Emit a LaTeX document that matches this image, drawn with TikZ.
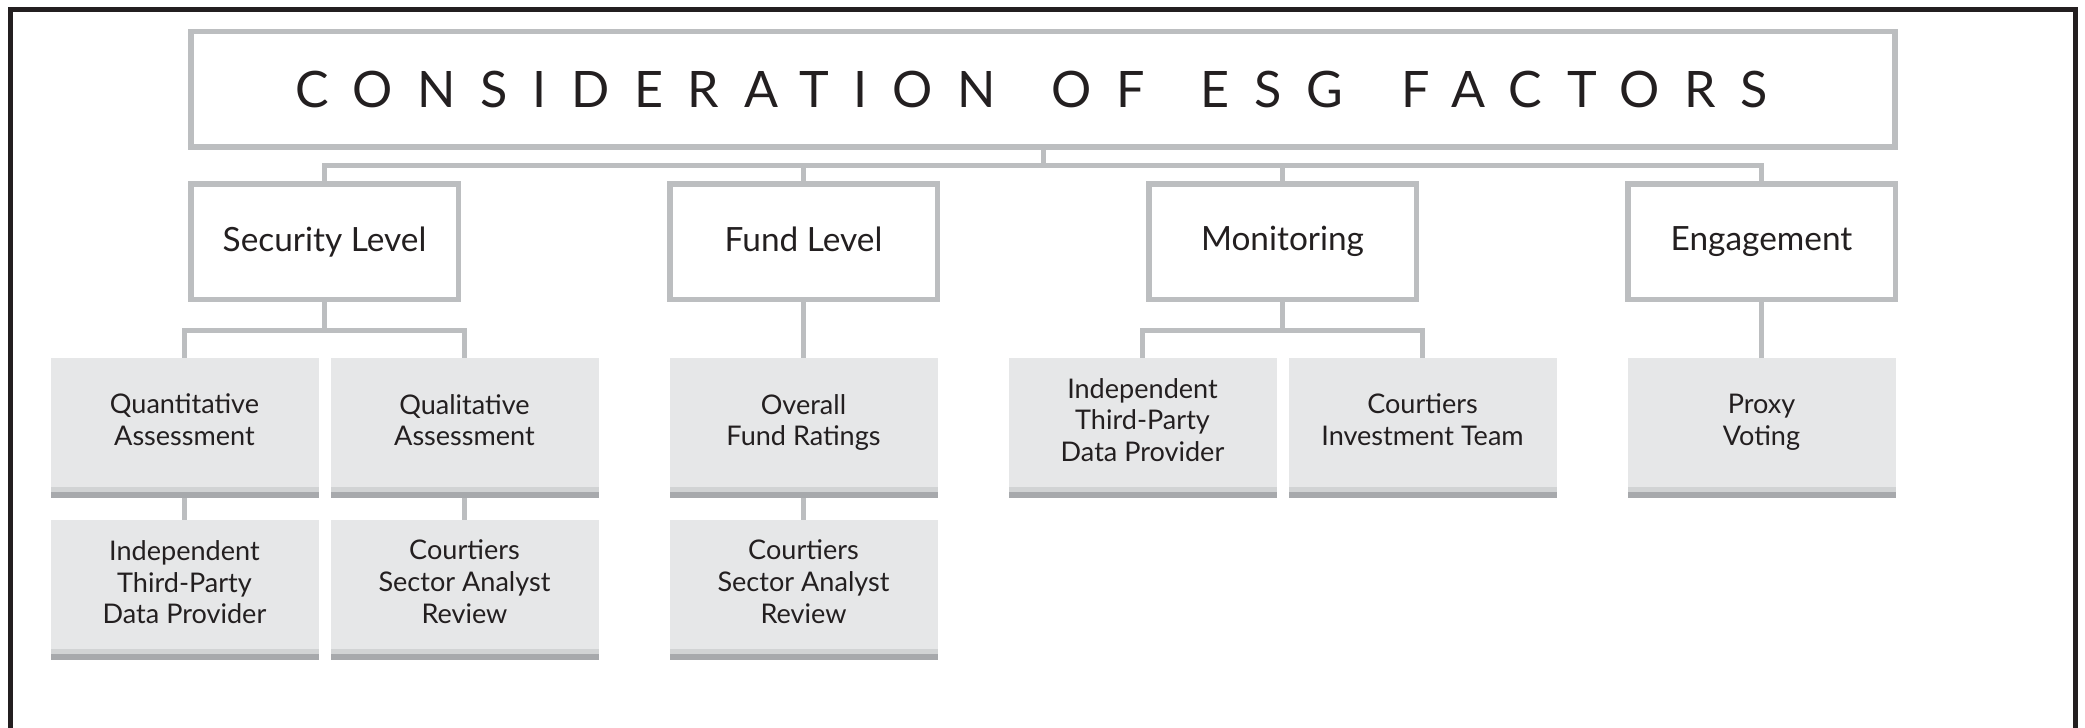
\documentclass[tikz,border=0pt]{standalone}
\usepackage{fontspec}
\setmainfont{Lato}
\newfontfamily\titlefont[LetterSpace=49]{Lato}
\usetikzlibrary{positioning}

\definecolor{ink}{HTML}{231F20}
\definecolor{wiregray}{HTML}{BCBEC0}
\definecolor{leafgray}{HTML}{E6E7E8}
\definecolor{bandlight}{HTML}{D1D3D4}
\definecolor{banddark}{HTML}{A7A9AC}

\begin{document}
\begin{tikzpicture}[
    on grid, node distance=1.5cm,
    titlebox/.style={rectangle, draw=wiregray, line width=0.055cm, inner sep=0pt, minimum width=17.04cm, minimum height=1.155cm, text=ink, font=\titlefont\fontsize{14.3}{17}\selectfont},
    head/.style={rectangle, draw=wiregray, line width=0.055cm, inner sep=0pt, minimum width=2.675cm, minimum height=1.155cm, text=ink, font=\fontsize{9.5}{11.4}\selectfont, execute at end node=\vphantom{y}},
    leaf/.style={rectangle, fill=leafgray, inner sep=0pt, outer sep=0pt, minimum width=2.68cm, minimum height=1.29cm, align=center, text=ink, font=\fontsize{7.7}{9.1}\selectfont, execute at end node=\vphantom{g}},
    wire/.style={draw=wiregray, line width=0.05cm},
    boxframe/.style={draw=ink, line width=0.05cm}
]
    \useasboundingbox (0,0) rectangle (20.85,-7.28);
    \draw[boxframe] (0.108,-7.28) |- (20.75,-0.095) -- (20.75,-7.28);

    \node[titlebox] (title) at (10.43,-0.8925) {CONSIDERATION\hspace{0.56cm}OF\hspace{0.56cm}ESG\hspace{0.58cm}FACTORS\kern0.23cm};

    \node[head] (fund) [below left=1.525cm and 2.395cm of title] {Fund Level};
    \node[head] (sec) [left=4.79cm of fund] {Security Level};
    \node[head] (mon) [right=4.79cm of fund] {Monitoring};
    \node[head] (eng) [right=4.79cm of mon] {Engagement};

    \node[leaf] (quant) [below left=1.8075cm and 1.4cm of sec] {Quantitative\\Assessment};
    \node[leaf] (qual) [right=2.8cm of quant] {Qualitative\\Assessment};
    \node[leaf] (fundr) [below=1.8075cm of fund] {Overall\\Fund Ratings};
    \node[leaf] (indep) [below left=1.8075cm and 1.4cm of mon] {Independent\\Third-Party\\Data Provider};
    \node[leaf] (invt) [right=2.8cm of indep] {Courtiers\\Investment Team};
    \node[leaf] (proxy) [below=1.8075cm of eng] {Proxy\\Voting};

    \node[leaf] (data1) [below=1.62cm of quant] {Independent\\Third-Party\\Data Provider};
    \node[leaf] (review1) [below=1.62cm of qual] {Courtiers\\Sector Analyst\\Review};
    \node[leaf] (review2) [below=1.62cm of fundr] {Courtiers\\Sector Analyst\\Review};

    % top bus
    \draw[wire] (title.south) -- ++(0,-0.16);
    \draw[wire] (sec.north) -- ++(0,0.16) -| (eng.north);
    \draw[wire] (fund.north) -- ++(0,0.16);
    \draw[wire] (mon.north) -- ++(0,0.16);

    % brackets under the heads
    \draw[wire] (sec.south) -- ++(0,-0.2825) coordinate (secbr);
    \draw[wire] (quant.north) |- (secbr) -| (qual.north);
    \draw[wire] (mon.south) -- ++(0,-0.2825) coordinate (monbr);
    \draw[wire] (indep.north) |- (monbr) -| (invt.north);

    \draw[wire] (fund) -- (fundr);
    \draw[wire] (eng) -- (proxy);
    \draw[wire] (quant) -- (data1);
    \draw[wire] (qual) -- (review1);
    \draw[wire] (fundr) -- (review2);

    % shaded strips along the bottom of each leaf
    \foreach \n in {quant,qual,fundr,indep,invt,proxy,data1,review1,review2} {
        \fill[bandlight] (\n.south west) rectangle ([yshift=-0.05cm]\n.south east);
        \fill[banddark] ([yshift=-0.05cm]\n.south west) rectangle ([yshift=-0.105cm]\n.south east);
    }
\end{tikzpicture}
\end{document}
